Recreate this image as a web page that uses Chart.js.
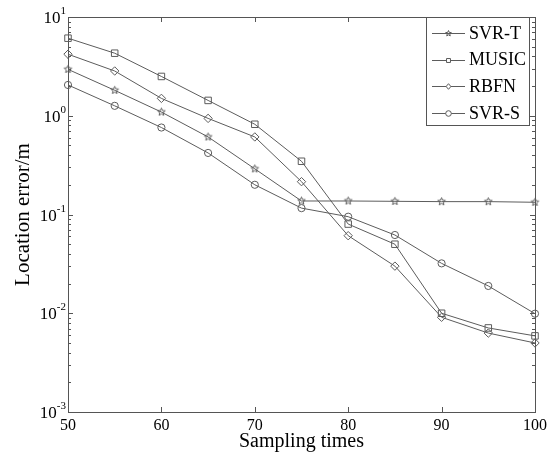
<!DOCTYPE html>
<html>
<head>
<meta charset="utf-8">
<script src="https://cdn.jsdelivr.net/npm/chart.js@4.4.0/dist/chart.umd.min.js"></script>
<style>
  html, body { margin: 0; padding: 0; background: #fff; }
  #wrap { width: 556px; height: 459px; position: relative; }
</style>
</head>
<body>
<div id="wrap"><canvas id="chart"></canvas></div>
<script>
// data
const samplingTimes = [50, 55, 60, 65, 70, 75, 80, 85, 90, 95, 100];
const svrT  = [2.95, 1.81, 1.09, 0.61, 0.29, 0.137, 0.137, 0.136, 0.135, 0.135, 0.133];
const music = [6.1, 4.3, 2.5, 1.43, 0.82, 0.346, 0.080, 0.050, 0.0100, 0.0071, 0.0059];
const rbfn  = [4.2, 2.84, 1.5, 0.94, 0.61, 0.215, 0.061, 0.030, 0.0091, 0.0063, 0.0050];
const svrS  = [2.05, 1.26, 0.76, 0.42, 0.20, 0.116, 0.095, 0.062, 0.032, 0.0189, 0.0099];
const xTicks = [50, 60, 70, 80, 90, 100];
const yExponents = [-3, -2, -1, 0, 1];

const LINE = '#5c5c5c';
const AXIS = '#555555';
const FONT = '"Liberation Serif", "Times New Roman", serif';

// pentagram outline for the SVR-T marker
function makeStar(r) {
  const size = Math.ceil(r * 2 + 3);
  const c = document.createElement('canvas');
  c.width = size; c.height = size;
  const g = c.getContext('2d');
  const cx = size / 2, cy = size / 2;
  g.beginPath();
  for (let i = 0; i < 10; i++) {
    const rad = i % 2 === 0 ? r : r * 0.45;
    const ang = -Math.PI / 2 + i * Math.PI / 5;
    const px = cx + rad * Math.cos(ang), py = cy + rad * Math.sin(ang);
    if (i === 0) g.moveTo(px, py); else g.lineTo(px, py);
  }
  g.closePath();
  g.strokeStyle = LINE;
  g.lineWidth = 1;
  g.stroke();
  return c;
}
const starBig = makeStar(4);
const starSmall = makeStar(3);

const toPoints = vals => vals.map((v, i) => ({ x: samplingTimes[i], y: v }));

const series = [
  { label: 'SVR-T', data: svrT, pointStyle: starBig, legendStyle: starSmall, radius: 4 },
  { label: 'MUSIC', data: music, pointStyle: 'rect', radius: 4.6 },
  { label: 'RBFN', data: rbfn, pointStyle: 'rectRot', radius: 4.2 },
  { label: 'SVR-S', data: svrS, pointStyle: 'circle', radius: 3.6 }
];

function drawMarker(ctx, style, x, y, r) {
  if (style instanceof HTMLCanvasElement) {
    ctx.drawImage(style, x - style.width / 2, y - style.height / 2);
    return;
  }
  ctx.beginPath();
  if (style === 'rect') {
    const s = r * Math.SQRT1_2;
    ctx.rect(x - s, y - s, 2 * s, 2 * s);
  } else if (style === 'rectRot') {
    ctx.moveTo(x, y - r); ctx.lineTo(x + r * 0.85, y); ctx.lineTo(x, y + r); ctx.lineTo(x - r * 0.85, y);
    ctx.closePath();
  } else {
    ctx.arc(x, y, r, 0, Math.PI * 2);
  }
  ctx.fillStyle = '#fff';
  ctx.fill();
  ctx.stroke();
}

const framePlugin = {
  id: 'frame',
  beforeDatasetsDraw(chart) {
    const { ctx, chartArea: a, scales: { x, y } } = chart;
    ctx.save();
    ctx.strokeStyle = AXIS;
    ctx.lineWidth = 1;
    ctx.beginPath();
    // x ticks, bottom and top, pointing inward
    xTicks.forEach(t => {
      const px = Math.round(x.getPixelForValue(t)) + 0.5;
      ctx.moveTo(px, a.bottom); ctx.lineTo(px, a.bottom - 5);
      ctx.moveTo(px, a.top); ctx.lineTo(px, a.top + 5);
    });
    // y ticks, left and right, major + minor
    for (let e = -3; e <= 1; e++) {
      for (let m = 1; m <= 9; m++) {
        const v = m * Math.pow(10, e);
        if (v > 10.0001) break;
        const py = Math.round(y.getPixelForValue(v)) + 0.5;
        const len = m === 1 ? 5 : 3;
        ctx.moveTo(a.left, py); ctx.lineTo(a.left + len, py);
        ctx.moveTo(a.right, py); ctx.lineTo(a.right - len, py);
      }
    }
    ctx.stroke();
    ctx.strokeRect(a.left + 0.5, a.top + 0.5, a.right - a.left, a.bottom - a.top);
    ctx.restore();
  },
  afterDraw(chart) {
    const { ctx, chartArea: a, scales: { x, y } } = chart;
    ctx.save();
    ctx.fillStyle = '#000';

    // x tick labels
    ctx.font = '16px ' + FONT;
    ctx.textAlign = 'center';
    ctx.textBaseline = 'alphabetic';
    xTicks.forEach(t => ctx.fillText(String(t), x.getPixelForValue(t), a.bottom + 18));

    // y tick labels 10^n
    yExponents.forEach(e => {
      const py = y.getPixelForValue(Math.pow(10, e));
      ctx.font = '17px ' + FONT;
      const wBase = ctx.measureText('10').width;
      ctx.font = '11px ' + FONT;
      const sup = String(e);
      const wSup = ctx.measureText(sup).width;
      const right = a.left - 2;
      ctx.textAlign = 'left';
      ctx.font = '17px ' + FONT;
      ctx.fillText('10', right - wSup - wBase, py + 6);
      ctx.font = '11px ' + FONT;
      ctx.fillText(sup, right - wSup, py - 3);
    });

    // axis titles
    ctx.font = '20px ' + FONT;
    ctx.textAlign = 'center';
    ctx.fillText('Sampling times', (a.left + a.right) / 2, a.bottom + 35);
    ctx.save();
    ctx.font = '21px ' + FONT;
    ctx.translate(29, (a.top + a.bottom) / 2);
    ctx.rotate(-Math.PI / 2);
    ctx.fillText('Location error/m', 0, 0);
    ctx.restore();

    // legend box in the upper right corner
    const bx = 426, by = a.top, bw = a.right - 6 - bx, bh = 108;
    ctx.fillStyle = '#fff';
    ctx.fillRect(bx, by, bw, bh);
    ctx.strokeStyle = AXIS;
    ctx.strokeRect(bx + 0.5, by + 0.5, bw, bh);
    ctx.font = '18px ' + FONT;
    ctx.textAlign = 'left';
    ctx.textBaseline = 'middle';
    series.forEach((s, i) => {
      const ry = by + 16 + i * 26.7;
      ctx.strokeStyle = LINE;
      ctx.beginPath();
      ctx.moveTo(bx + 6, Math.round(ry) + 0.5);
      ctx.lineTo(bx + 39, Math.round(ry) + 0.5);
      ctx.stroke();
      drawMarker(ctx, s.legendStyle || s.pointStyle, bx + 22.5, Math.round(ry) + 0.5, 2.8);
      ctx.fillStyle = '#000';
      ctx.fillText(s.label, bx + 43, ry + 1);
    });
    ctx.restore();
  }
};

new Chart(document.getElementById('chart'), {
  type: 'line',
  data: {
    datasets: series.map(s => ({
      label: s.label,
      data: toPoints(s.data),
      borderColor: LINE,
      borderWidth: 1,
      backgroundColor: 'rgba(0,0,0,0)',
      pointStyle: s.pointStyle,
      pointRadius: s.radius,
      pointBorderColor: LINE,
      pointBorderWidth: 1,
      pointBackgroundColor: 'rgba(0,0,0,0)',
      tension: 0,
      clip: false
    }))
  },
  options: {
    responsive: true,
    maintainAspectRatio: false,
    animation: false,
    layout: { padding: { left: 68, right: 21, top: 17, bottom: 47 } },
    plugins: { legend: { display: false }, tooltip: { enabled: false } },
    scales: {
      x: { type: 'linear', display: false, min: 50, max: 100 },
      y: { type: 'logarithmic', display: false, min: 0.001, max: 10 }
    }
  },
  plugins: [framePlugin]
});
</script>
</body>
</html>
